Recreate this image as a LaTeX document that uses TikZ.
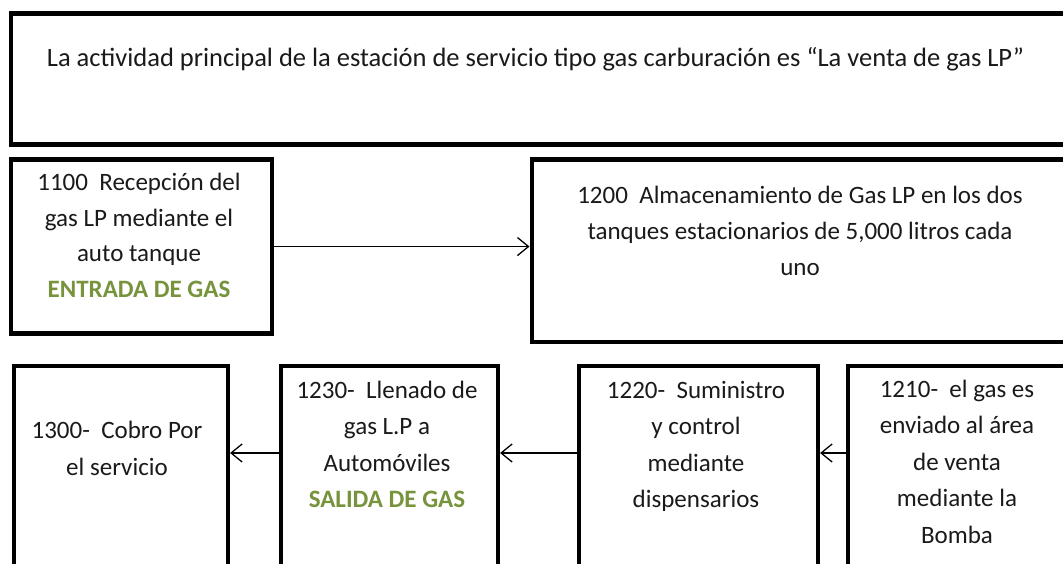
\documentclass[tikz,border=0pt]{standalone}
\usepackage{fontspec}
\setmainfont{Carlito}
\usetikzlibrary{arrows.meta}
\definecolor{txt}{HTML}{1A1A1A}
\definecolor{olive}{HTML}{77933C}
\tikzset{
  box/.style={draw=black, line width=4.6pt, rectangle, inner sep=0pt, anchor=north west},
  lbl/.style={align=center, text=txt, inner sep=0pt, anchor=base, font=\fontsize{25}{35.5}\selectfont},
  lblb/.style={lbl, font=\fontsize{25}{36.5}\selectfont},
  arr/.style={draw=black, line width=1.3pt, -{Straight Barb[length=11pt,width=18pt,line width=1.3pt]}},
}
\begin{document}
\begin{tikzpicture}[x=1pt,y=-1pt]
\useasboundingbox (0,0) rectangle (1063,564);
\clip (0,0) rectangle (1063,564);
\fill[white] (0,0) rectangle (1063,564);
% boxes
\node[box, minimum width=1059.5pt, minimum height=131pt] (top) at (8.5,11.5) {};
\node[box, minimum width=261pt, minimum height=173.5pt] (b1100) at (8.5,157.5) {};
\node[box, minimum width=540.5pt, minimum height=182pt] (b1200) at (529.5,157.5) {};
\node[box, minimum width=214pt, minimum height=240pt] (b1300) at (11.5,363.5) {};
\node[box, minimum width=217pt, minimum height=240pt] (b1230) at (278.5,363.5) {};
\node[box, minimum width=239pt, minimum height=240pt] (b1220) at (576.5,363.5) {};
\node[box, minimum width=224.5pt, minimum height=240pt] (b1210) at (845.5,363.5) {};
% texts (anchor base = baseline of the last line)
\node[lbl, font=\fontsize{26.5}{35.5}\selectfont] (ttop) at (535.5,66.7) {La actividad principal de la estación de servicio tipo gas carburación es “La venta de gas LP”};
\node[lbl] (t1100) at (139,297) {1100\ \ Recepción del\\gas LP mediante el\\auto tanque\\{\bfseries\color{olive}ENTRADA DE GAS}};
\node[lbl] (t1200) at (800,275) {1200\ \ Almacenamiento de Gas LP en los dos\\tanques estacionarios de 5,000 litros cada\\uno};
\node[lblb] (t1300) at (117,475) {1300-\ \ Cobro Por\\el servicio};
\node[lblb] (t1230) at (387,507.5) {1230-\ \ Llenado de\\gas L.P a\\Automóviles\\{\bfseries\color{olive}SALIDA DE GAS}};
\node[lblb] (t1220) at (696,507.5) {1220-\ \ Suministro\\y control\\mediante\\dispensarios};
\node[lblb] (t1210) at (957,543) {1210-\ \ el gas es\\enviado al área\\de venta\\mediante la\\Bomba};
% connectors
\coordinate (row) at (0,453);
\draw[arr] (b1100.east) -- (b1100.east -| b1200.west);
\draw[arr] (b1230.west |- row) -- (b1300.east |- row);
\draw[arr] (b1220.west |- row) -- (b1230.east |- row);
\draw[arr] (b1210.west |- row) -- (b1220.east |- row);
\end{tikzpicture}
\end{document}
